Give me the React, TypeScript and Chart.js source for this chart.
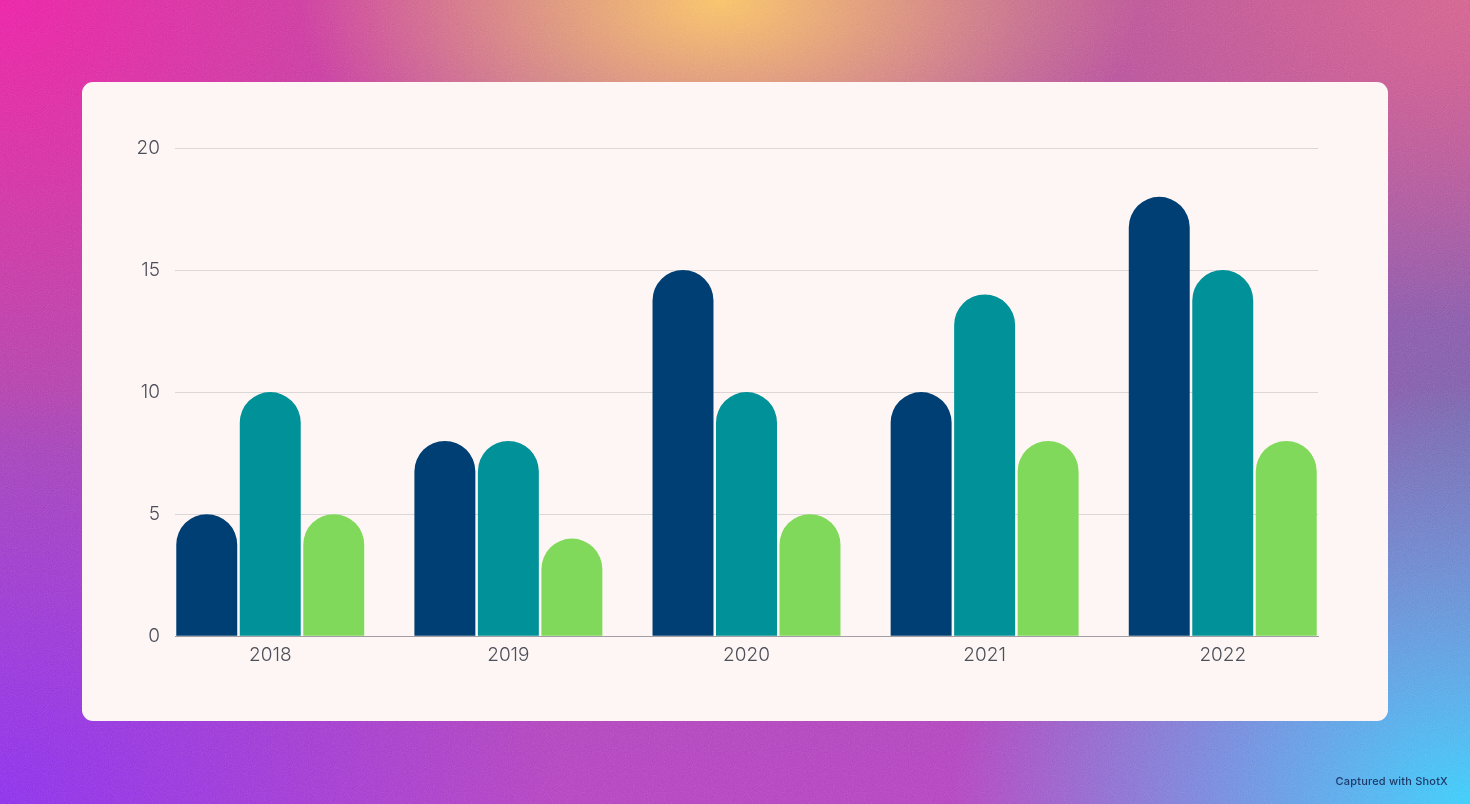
import React, { useEffect, useRef } from 'react';
import Chart from 'chart.js/auto';

// data
const years = ['2018', '2019', '2020', '2021', '2022'];
const seriesA = [5, 8, 15, 10, 18];
const seriesB = [10, 8, 10, 14, 15];
const seriesC = [5, 4, 5, 8, 8];
const yTicks = [0, 5, 10, 15, 20];

const NAVY = '#003f73';
const TEAL = '#009298';
const GREEN = '#80d95a';

const noise =
  "url(\"data:image/svg+xml;utf8,<svg xmlns='http://www.w3.org/2000/svg' width='200' height='200'><filter id='n'><feTurbulence type='fractalNoise' baseFrequency='0.95' numOctaves='2' stitchTiles='stitch'/><feColorMatrix type='saturate' values='0'/></filter><rect width='100%' height='100%' filter='url(%23n)' opacity='0.6'/></svg>\")";

const BarChart: React.FC = () => {
  const canvasRef = useRef<HTMLCanvasElement>(null);
  const chartRef = useRef<Chart | null>(null);

  useEffect(() => {
    if (!canvasRef.current) return;
    if (chartRef.current) chartRef.current.destroy();

    const toPoints = (vals: number[]) => vals.map((v, i) => ({ x: i, y: v }));
    const radius = { topLeft: 100, topRight: 100, bottomLeft: 0, bottomRight: 0 };

    chartRef.current = new Chart(canvasRef.current, {
      type: 'bar',
      data: {
        datasets: [
          { data: toPoints(seriesA), backgroundColor: NAVY, borderRadius: radius, borderSkipped: false },
          { data: toPoints(seriesB), backgroundColor: TEAL, borderRadius: radius, borderSkipped: false },
          { data: toPoints(seriesC), backgroundColor: GREEN, borderRadius: radius, borderSkipped: false },
        ],
      },
      options: {
        animation: false,
        responsive: true,
        maintainAspectRatio: false,
        categoryPercentage: 0.8,
        barPercentage: 0.96,
        layout: { padding: { left: 0, right: 70, top: 66, bottom: 46 } },
        plugins: {
          legend: { display: false },
          tooltip: { enabled: false },
        },
        scales: {
          x: {
            type: 'linear',
            min: -0.4,
            max: years.length - 0.6,
            offset: false,
            afterBuildTicks: (scale: any) => {
              scale.ticks = years.map((_, i) => ({ value: i }));
            },
            grid: { display: false, drawTicks: false },
            border: { display: true, color: '#a29ea4', width: 1 },
            ticks: {
              padding: 8,
              color: '#4d4f5a',
              font: { family: 'Inter', size: 19, weight: 300 },
              callback: (v: any) => years[v as number],
            },
          },
          y: {
            min: 0,
            max: 20,
            afterBuildTicks: (scale: any) => {
              scale.ticks = yTicks.map((v) => ({ value: v }));
            },
            afterFit: (scale: any) => {
              scale.width = 93;
            },
            grid: {
              drawTicks: false,
              color: (ctx: any) => (ctx.tick && ctx.tick.value === 0 ? '#a29ea4' : '#dcd6d6'),
              lineWidth: 1,
            },
            border: { display: false },
            ticks: {
              padding: 15,
              color: '#4d4f5a',
              font: { family: 'Inter', size: 19, weight: 300 },
            },
          },
        },
      },
    });

    return () => {
      if (chartRef.current) {
        chartRef.current.destroy();
        chartRef.current = null;
      }
    };
  }, []);

  return <canvas ref={canvasRef} />;
};

const App: React.FC = () => {
  useEffect(() => {
    document.body.style.margin = '0';
  }, []);

  return (
    <div
      style={{
        position: 'relative',
        width: 1470,
        height: 804,
        overflow: 'hidden',
        background: [
          'radial-gradient(ellipse 420px 240px at 720px 0px, rgba(252,200,100,0.95), rgba(252,200,100,0) 100%)',
          'radial-gradient(ellipse 520px 420px at 1470px 804px, rgba(60,205,250,1), rgba(60,205,250,0) 100%)',
          'radial-gradient(ellipse 560px 420px at 0px 804px, rgba(140,50,235,1), rgba(140,50,235,0) 100%)',
          'radial-gradient(ellipse 560px 460px at 0px 0px, rgba(235,35,165,1), rgba(235,35,165,0) 100%)',
          'radial-gradient(ellipse 460px 320px at 1470px 0px, rgba(215,100,140,0.9), rgba(215,100,140,0) 100%)',
          'radial-gradient(ellipse 420px 360px at 1470px 420px, rgba(120,100,170,0.9), rgba(120,100,170,0) 100%)',
          'linear-gradient(180deg, #b4509a 0%, #a848b0 55%, #b444c0 100%)',
        ].join(','),
      }}
    >
      <div
        style={{
          position: 'absolute',
          inset: 0,
          backgroundImage: noise,
          mixBlendMode: 'soft-light',
        }}
      />
      <div
        style={{
          position: 'absolute',
          left: 82,
          top: 82,
          width: 1306,
          height: 639,
          background: '#fdf6f4',
          borderRadius: 11,
        }}
      >
        <BarChart />
      </div>
      <div
        style={{
          position: 'absolute',
          right: 22,
          top: 774,
          fontFamily: 'Inter, sans-serif',
          fontSize: 11,
          fontWeight: 500,
          color: '#1e3a6a',
          letterSpacing: 0.2,
        }}
      >
        Captured with ShotX
      </div>
    </div>
  );
};

export default App;
